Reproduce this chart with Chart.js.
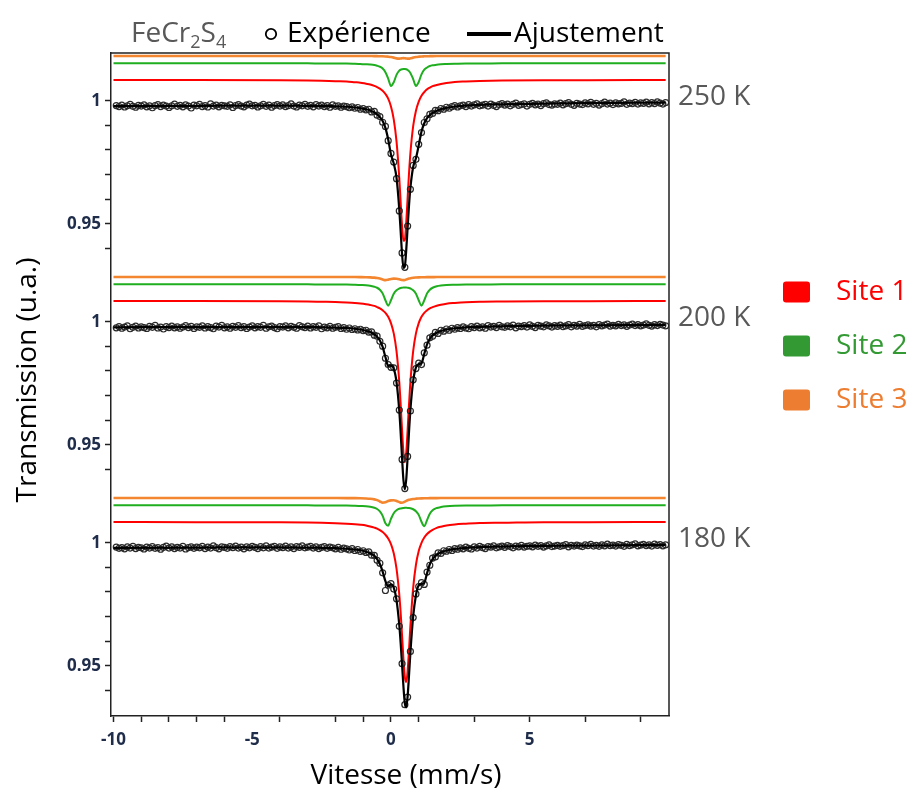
<!DOCTYPE html>
<html lang="fr">
<head>
<meta charset="UTF-8">
<title>FeCr2S4 - spectres Mössbauer</title>
<script src="https://cdn.jsdelivr.net/npm/chart.js"></script>
<style>
  html, body { margin: 0; padding: 0; background: #fff; }
  #wrap { width: 915px; height: 794px; }
</style>
</head>
<body>
<div id="wrap"><canvas id="spectra" width="915" height="794"></canvas></div>
<script>
// spectra, top to bottom
const temps = ['250 K', '200 K', '180 K'];
const panelShift = [0.18, 0.09, 0];          // vertical stacking of the three spectra
const siteLift = [0.0085, 0.0153, 0.0183];   // sub-spectra drawn above each spectrum
const siteNames = ['Site 1', 'Site 2', 'Site 3'];

// axis ticks
const xTickValues = [-10, -9, -8, -7, -6, -5, -4, -2, -1, 0, 1, 3, 5, 7, 9];
const xTickLabels = ['-10', '', '', '', '', '-5', '', '', '', '0', '', '', '5', '', ''];
const xTickNoMark = [-5];
const yTickLocal = [1, 0.99, 0.98, 0.97, 0.96, 0.95, 0.94];
const yTickText = ['1', '', '', '', '', '0.95', ''];

// velocity grid of the fitted curves (mm/s)
const vFit = [-10, -7, -4, -3, -2.5, -2, -1.6, -1.3, -1.1, -0.9, -0.75, -0.6, -0.5, -0.4, -0.3, -0.2, -0.1, 0, 0.1, 0.2,
  0.3, 0.35, 0.4, 0.45, 0.5, 0.55, 0.6, 0.65, 0.7, 0.8, 0.9, 1.0, 1.1, 1.2, 1.3, 1.4, 1.5, 1.65, 1.8, 2.0,
  2.3, 2.7, 3.2, 4, 5.5, 7, 9.9];

// 250 K
const fit250 = [0.9979, 0.9980, 0.9981, 0.9980, 0.9980, 0.9978, 0.9976, 0.9973, 0.9970, 0.9966, 0.9961, 0.9953, 0.9945, 0.9934, 0.9918, 0.9890, 0.9843, 0.9782, 0.9745, 0.9687,
  0.9557, 0.9467, 0.9376, 0.9320, 0.9326, 0.9392, 0.9485, 0.9574, 0.9646, 0.9731, 0.9766, 0.9819, 0.9875, 0.9909, 0.9930, 0.9942, 0.9951, 0.9960, 0.9966, 0.9971,
  0.9977, 0.9981, 0.9984, 0.9986, 0.9989, 0.9991, 0.9993];
const site1_250 = [1.0000, 1.0000, 0.9999, 0.9998, 0.9997, 0.9995, 0.9994, 0.9991, 0.9989, 0.9985, 0.9982, 0.9976, 0.9971, 0.9965, 0.9956, 0.9943, 0.9924, 0.9892, 0.9840, 0.9750,
  0.9600, 0.9500, 0.9405, 0.9345, 0.9350, 0.9420, 0.9520, 0.9620, 0.9702, 0.9812, 0.9875, 0.9912, 0.9936, 0.9951, 0.9962, 0.9969, 0.9975, 0.9980, 0.9984, 0.9988,
  0.9992, 0.9994, 0.9996, 0.9998, 0.9999, 0.9999, 1.0000];
const site2_250 = [1.0000, 1.0000, 1.0000, 1.0000, 0.9999, 0.9999, 0.9999, 0.9998, 0.9997, 0.9996, 0.9995, 0.9993, 0.9990, 0.9986, 0.9979, 0.9964, 0.9938, 0.9908, 0.9923, 0.9953,
  0.9970, 0.9974, 0.9976, 0.9977, 0.9977, 0.9976, 0.9973, 0.9968, 0.9961, 0.9936, 0.9908, 0.9924, 0.9955, 0.9974, 0.9983, 0.9989, 0.9992, 0.9994, 0.9996, 0.9997,
  0.9998, 0.9999, 0.9999, 1.0000, 1.0000, 1.0000, 1.0000];
const site3_250 = [1.0000, 1.0000, 1.0000, 1.0000, 1.0000, 1.0000, 1.0000, 1.0000, 1.0000, 0.99996, 0.99995, 0.99994, 0.99991, 0.99989, 0.99986, 0.99980, 0.99971, 0.99957, 0.99932, 0.99900,
  0.99891, 0.99899, 0.99907, 0.99910, 0.99907, 0.99899, 0.99891, 0.99892, 0.99902, 0.99932, 0.99957, 0.99971, 0.99980, 0.99985, 0.99989, 0.99991, 0.99993, 0.99995, 0.99996, 0.99997,
  0.99998, 1.0000, 1.0000, 1.0000, 1.0000, 1.0000, 1.0000];

// 200 K
const fit200 = [0.9978, 0.9979, 0.9979, 0.9979, 0.9978, 0.9977, 0.9975, 0.9972, 0.9969, 0.9964, 0.9959, 0.9949, 0.9940, 0.9924, 0.9898, 0.9857, 0.9821, 0.9822, 0.9810, 0.9755,
  0.9637, 0.9547, 0.9445, 0.9355, 0.9318, 0.9358, 0.9449, 0.9552, 0.9642, 0.9759, 0.9815, 0.9828, 0.9832, 0.9870, 0.9908, 0.9931, 0.9945, 0.9956, 0.9963, 0.9969,
  0.9974, 0.9978, 0.9980, 0.9982, 0.9985, 0.9986, 0.9988];
const site1_200 = [1.0000, 1.0000, 0.9999, 0.9998, 0.9997, 0.9996, 0.9994, 0.9992, 0.9990, 0.9987, 0.9984, 0.9980, 0.9975, 0.9970, 0.9962, 0.9952, 0.9936, 0.9910, 0.9868, 0.9796,
  0.9670, 0.9578, 0.9474, 0.9382, 0.9343, 0.9382, 0.9474, 0.9578, 0.9670, 0.9796, 0.9868, 0.9910, 0.9936, 0.9952, 0.9962, 0.9970, 0.9975, 0.9981, 0.9985, 0.9989,
  0.9992, 0.9995, 0.9997, 0.9998, 0.9999, 0.9999, 1.0000];
const site2_200 = [1.0000, 1.0000, 1.0000, 1.0000, 0.9999, 0.9999, 0.9999, 0.9998, 0.9997, 0.9996, 0.9994, 0.9990, 0.9986, 0.9978, 0.9963, 0.9935, 0.9913, 0.9935, 0.9962, 0.9976,
  0.9983, 0.9985, 0.9986, 0.9987, 0.9987, 0.9987, 0.9986, 0.9985, 0.9983, 0.9976, 0.9962, 0.9935, 0.9913, 0.9935, 0.9963, 0.9978, 0.9986, 0.9992, 0.9995, 0.9997,
  0.9998, 0.9999, 0.9999, 1.0000, 1.0000, 1.0000, 1.0000];
const site3_200 = [1.0000, 1.0000, 0.99999, 0.99999, 0.99998, 0.99998, 0.99997, 0.99995, 0.99992, 0.99988, 0.99983, 0.99972, 0.99958, 0.99934, 0.99896, 0.99870, 0.99890, 0.99920, 0.99933, 0.99929,
  0.99907, 0.99890, 0.99875, 0.99870, 0.99878, 0.99896, 0.99916, 0.99934, 0.99948, 0.99966, 0.99976, 0.99983, 0.99987, 0.99990, 0.99992, 0.99993, 0.99994, 0.99995, 0.99996, 0.99997,
  0.99998, 0.99999, 0.99999, 1.0000, 1.0000, 1.0000, 1.0000];

// 180 K
const fit180 = [0.9980, 0.9981, 0.9982, 0.9981, 0.9980, 0.9979, 0.9976, 0.9973, 0.9970, 0.9964, 0.9958, 0.9947, 0.9934, 0.9914, 0.9883, 0.9844, 0.9823, 0.9831, 0.9818, 0.9767,
  0.9665, 0.9591, 0.9503, 0.9414, 0.9346, 0.9330, 0.9375, 0.9460, 0.9553, 0.9701, 0.9787, 0.9827, 0.9833, 0.9837, 0.9876, 0.9913, 0.9934, 0.9952, 0.9961, 0.9969,
  0.9975, 0.9980, 0.9983, 0.9985, 0.9988, 0.9989, 0.9992];
const site1_180 = [1.0000, 0.9999, 0.9999, 0.9998, 0.9997, 0.9995, 0.9993, 0.9991, 0.9989, 0.9986, 0.9982, 0.9977, 0.9973, 0.9967, 0.9959, 0.9948, 0.9933, 0.9910, 0.9873, 0.9810,
  0.9704, 0.9628, 0.9537, 0.9442, 0.9368, 0.9348, 0.9393, 0.9480, 0.9577, 0.9732, 0.9826, 0.9882, 0.9915, 0.9937, 0.9951, 0.9961, 0.9968, 0.9976, 0.9981, 0.9986,
  0.9990, 0.9993, 0.9996, 0.9997, 0.9999, 0.9999, 1.0000];
const site2_180 = [1.0000, 1.0000, 1.0000, 1.0000, 0.9999, 0.9999, 0.9999, 0.9998, 0.9997, 0.9996, 0.9994, 0.9990, 0.9985, 0.9975, 0.9957, 0.9927, 0.9917, 0.9945, 0.9968, 0.9980,
  0.9986, 0.9987, 0.9988, 0.9989, 0.9990, 0.9990, 0.9989, 0.9989, 0.9988, 0.9984, 0.9976, 0.9961, 0.9933, 0.9915, 0.9940, 0.9966, 0.9980, 0.9989, 0.9993, 0.9996,
  0.9998, 0.9999, 0.9999, 1.0000, 1.0000, 1.0000, 1.0000];
const site3_180 = [1.0000, 1.0000, 0.99999, 0.99998, 0.99998, 0.99996, 0.99994, 0.99991, 0.99987, 0.99979, 0.99967, 0.99942, 0.99910, 0.99857, 0.99808, 0.99826, 0.99875, 0.99902, 0.99906, 0.99879,
  0.99831, 0.99810, 0.99806, 0.99822, 0.99851, 0.99880, 0.99906, 0.99925, 0.99940, 0.99960, 0.99971, 0.99978, 0.99983, 0.99987, 0.99989, 0.99991, 0.99992, 0.99994, 0.99995, 0.99996,
  0.99997, 0.99998, 0.99999, 0.99999, 1.0000, 1.0000, 1.0000];

// measured spectra: one channel every 0.1 mm/s from -9.9 to 9.9
const vExpStart = -9.9, vExpStep = 0.1;
const exp250 = [
  0.9981, 0.9977, 0.9983, 0.9975, 0.9980, 0.9986, 0.9978, 0.9974, 0.9982, 0.9979,
  0.9984, 0.9976, 0.9980, 0.9972, 0.9981, 0.9985, 0.9977, 0.9983, 0.9979, 0.9973,
  0.9980, 0.9987, 0.9978, 0.9982, 0.9976, 0.9984, 0.9979, 0.9971, 0.9983, 0.9980,
  0.9986, 0.9977, 0.9981, 0.9975, 0.9988, 0.9979, 0.9983, 0.9976, 0.9982, 0.9980,
  0.9978, 0.9984, 0.9973, 0.9981, 0.9985, 0.9979, 0.9976, 0.9983, 0.9987, 0.9980,
  0.9982, 0.9975, 0.9980, 0.9986, 0.9978, 0.9983, 0.9974, 0.9981, 0.9985, 0.9979,
  0.9984, 0.9977, 0.9981, 0.9988, 0.9979, 0.9975, 0.9983, 0.9980, 0.9986, 0.9978,
  0.9982, 0.9976, 0.9985, 0.9979, 0.9983, 0.9977, 0.9981, 0.9974, 0.9984, 0.9978,
  0.9980, 0.9974, 0.9979, 0.9977, 0.9972, 0.9976, 0.9970, 0.9973, 0.9966, 0.9969,
  0.9963, 0.9966, 0.9955, 0.9957, 0.9942, 0.9936, 0.9913, 0.9896, 0.9838, 0.9786,
  0.9751, 0.9683, 0.9552, 0.9381, 0.9322, 0.9490, 0.9640, 0.9737, 0.9762, 0.9823,
  0.9871, 0.9912, 0.9927, 0.9945, 0.9949, 0.9961, 0.9960, 0.9969, 0.9966, 0.9974,
  0.9970, 0.9977, 0.9981, 0.9975, 0.9980, 0.9983, 0.9977, 0.9985, 0.9979, 0.9984,
  0.9988, 0.9980, 0.9983, 0.9986, 0.9979, 0.9987, 0.9982, 0.9977, 0.9985, 0.9989,
  0.9983, 0.9987, 0.9980, 0.9986, 0.9991, 0.9982, 0.9985, 0.9988, 0.9979, 0.9986,
  0.9990, 0.9984, 0.9987, 0.9981, 0.9989, 0.9992, 0.9985, 0.9983, 0.9988, 0.9986,
  0.9991, 0.9984, 0.9989, 0.9993, 0.9986, 0.9982, 0.9990, 0.9987, 0.9985, 0.9992,
  0.9988, 0.9994, 0.9986, 0.9990, 0.9983, 0.9989, 0.9995, 0.9987, 0.9991, 0.9985,
  0.9992, 0.9988, 0.9990, 0.9996, 0.9986, 0.9991, 0.9989, 0.9994, 0.9987, 0.9992,
  0.9990, 0.9995, 0.9988, 0.9993, 0.9989, 0.9996, 0.9991, 0.9987, 0.9993];
const exp200 = [
  0.9976, 0.9981, 0.9974, 0.9979, 0.9984, 0.9972, 0.9978, 0.9983, 0.9975, 0.9980,
  0.9977, 0.9973, 0.9982, 0.9978, 0.9986, 0.9975, 0.9979, 0.9971, 0.9981, 0.9977,
  0.9983, 0.9976, 0.9980, 0.9974, 0.9979, 0.9985, 0.9977, 0.9982, 0.9973, 0.9980,
  0.9978, 0.9984, 0.9975, 0.9981, 0.9977, 0.9972, 0.9983, 0.9979, 0.9986, 0.9976,
  0.9980, 0.9974, 0.9982, 0.9978, 0.9985, 0.9977, 0.9981, 0.9973, 0.9979, 0.9984,
  0.9976, 0.9981, 0.9978, 0.9986, 0.9974, 0.9980, 0.9983, 0.9977, 0.9972, 0.9981,
  0.9979, 0.9984, 0.9976, 0.9982, 0.9978, 0.9974, 0.9985, 0.9980, 0.9977, 0.9983,
  0.9975, 0.9981, 0.9978, 0.9984, 0.9972, 0.9979, 0.9976, 0.9982, 0.9974, 0.9978,
  0.9981, 0.9973, 0.9977, 0.9970, 0.9975, 0.9969, 0.9972, 0.9967, 0.9970, 0.9964,
  0.9966, 0.9958, 0.9959, 0.9946, 0.9942, 0.9921, 0.9901, 0.9852, 0.9826, 0.9815,
  0.9813, 0.9751, 0.9641, 0.9440, 0.9321, 0.9452, 0.9637, 0.9764, 0.9810, 0.9832,
  0.9826, 0.9874, 0.9905, 0.9935, 0.9941, 0.9957, 0.9953, 0.9966, 0.9962, 0.9971,
  0.9966, 0.9974, 0.9970, 0.9977, 0.9973, 0.9980, 0.9975, 0.9972, 0.9981, 0.9977,
  0.9983, 0.9976, 0.9980, 0.9974, 0.9985, 0.9979, 0.9982, 0.9977, 0.9986, 0.9980,
  0.9978, 0.9984, 0.9980, 0.9987, 0.9976, 0.9983, 0.9981, 0.9985, 0.9979, 0.9988,
  0.9982, 0.9977, 0.9986, 0.9983, 0.9980, 0.9988, 0.9984, 0.9979, 0.9985, 0.9982,
  0.9987, 0.9981, 0.9984, 0.9989, 0.9980, 0.9986, 0.9983, 0.9990, 0.9982, 0.9985,
  0.9988, 0.9983, 0.9986, 0.9980, 0.9989, 0.9984, 0.9987, 0.9991, 0.9983, 0.9986,
  0.9984, 0.9990, 0.9985, 0.9988, 0.9982, 0.9987, 0.9991, 0.9985, 0.9989, 0.9984,
  0.9987, 0.9992, 0.9986, 0.9983, 0.9989, 0.9985, 0.9990, 0.9987, 0.9984];
const exp180 = [
  0.9983, 0.9978, 0.9981, 0.9976, 0.9984, 0.9979, 0.9986, 0.9977, 0.9982, 0.9980,
  0.9975, 0.9983, 0.9979, 0.9985, 0.9978, 0.9981, 0.9974, 0.9982, 0.9987, 0.9979,
  0.9984, 0.9977, 0.9982, 0.9979, 0.9986, 0.9975, 0.9981, 0.9984, 0.9978, 0.9983,
  0.9980, 0.9986, 0.9977, 0.9983, 0.9979, 0.9988, 0.9981, 0.9976, 0.9984, 0.9982,
  0.9978, 0.9985, 0.9981, 0.9987, 0.9979, 0.9983, 0.9976, 0.9984, 0.9980, 0.9986,
  0.9982, 0.9977, 0.9985, 0.9980, 0.9988, 0.9979, 0.9983, 0.9986, 0.9978, 0.9984,
  0.9981, 0.9987, 0.9979, 0.9984, 0.9977, 0.9985, 0.9982, 0.9988, 0.9980, 0.9983,
  0.9986, 0.9979, 0.9984, 0.9977, 0.9982, 0.9985, 0.9978, 0.9983, 0.9980, 0.9976,
  0.9982, 0.9974, 0.9979, 0.9976, 0.9971, 0.9977, 0.9969, 0.9973, 0.9965, 0.9968,
  0.9961, 0.9963, 0.9950, 0.9949, 0.9929, 0.9917, 0.9878, 0.9806, 0.9828, 0.9834,
  0.9812, 0.9772, 0.9660, 0.9508, 0.9341, 0.9372, 0.9558, 0.9696, 0.9792, 0.9822,
  0.9838, 0.9831, 0.9881, 0.9909, 0.9938, 0.9943, 0.9959, 0.9957, 0.9968, 0.9966,
  0.9973, 0.9969, 0.9977, 0.9974, 0.9980, 0.9976, 0.9983, 0.9978, 0.9975, 0.9984,
  0.9979, 0.9986, 0.9981, 0.9977, 0.9985, 0.9983, 0.9988, 0.9980, 0.9984, 0.9987,
  0.9982, 0.9989, 0.9985, 0.9980, 0.9987, 0.9984, 0.9990, 0.9983, 0.9986, 0.9988,
  0.9984, 0.9991, 0.9986, 0.9989, 0.9983, 0.9988, 0.9992, 0.9985, 0.9987, 0.9990,
  0.9986, 0.9989, 0.9993, 0.9984, 0.9990, 0.9987, 0.9991, 0.9988, 0.9985, 0.9992,
  0.9989, 0.9994, 0.9987, 0.9990, 0.9986, 0.9992, 0.9988, 0.9995, 0.9989, 0.9991,
  0.9987, 0.9993, 0.9990, 0.9986, 0.9994, 0.9989, 0.9992, 0.9996, 0.9988, 0.9991,
  0.9994, 0.9989, 0.9992, 0.9987, 0.9995, 0.9990, 0.9993, 0.9988, 0.9992];

const expData = [exp250, exp200, exp180];
const fitData = [fit250, fit200, fit180];
const siteData = [
  [site1_250, site2_250, site3_250],
  [site1_200, site2_200, site3_200],
  [site1_180, site2_180, site3_180]
];

const siteLine = ['#ff0000', '#1fae1f', '#f3862f'];
const siteLegend = ['#ff0000', '#339933', '#ed7d31'];
const siteWidth = [2, 2, 2.6];
const axisInk = '#222';
const tickInk = '#1f2d4a';
const grey = '#595959';

// build the datasets
const datasets = [];
panelShift.forEach((shift, p) => {
  siteData[p].forEach((vals, s) => {
    datasets.push({
      data: vFit.map((v, i) => ({ x: v, y: vals[i] + shift + siteLift[s] })),
      showLine: true, borderColor: siteLine[s], borderWidth: siteWidth[s],
      pointRadius: 0, cubicInterpolationMode: 'monotone', order: 3
    });
  });
  datasets.push({
    data: expData[p].map((t, i) => ({ x: +(vExpStart + i * vExpStep).toFixed(2), y: t + shift })),
    showLine: false, pointRadius: 3, pointBorderWidth: 1.2,
    pointBorderColor: '#2a2a2a', pointBackgroundColor: 'rgba(255,255,255,0)', order: 2
  });
  datasets.push({
    data: vFit.map((v, i) => ({ x: v, y: fitData[p][i] + shift })),
    showLine: true, borderColor: '#000', borderWidth: 2.2,
    pointRadius: 0, cubicInterpolationMode: 'monotone', order: 1
  });
});

const yTickValues = panelShift.flatMap(s => yTickLocal.map(t => +(t + s).toFixed(4)));
const yTickLabels = panelShift.flatMap(() => yTickText);

// frame, titles and the hand-made legends
const decor = {
  id: 'decor',
  afterDraw(chart) {
    const { ctx, chartArea: a, scales } = chart;
    ctx.save();
    ctx.strokeStyle = axisInk;
    ctx.lineWidth = 1.5;
    ctx.beginPath();
    ctx.moveTo(a.left, a.top);
    ctx.lineTo(a.right, a.top);
    ctx.lineTo(a.right, a.bottom);
    ctx.stroke();

    const big = "28px 'Open Sans', sans-serif";
    const small = "18px 'Open Sans', sans-serif";

    // axis titles
    ctx.fillStyle = '#000';
    ctx.font = big;
    ctx.textAlign = 'center';
    ctx.textBaseline = 'middle';
    ctx.fillText('Vitesse (mm/s)', 406, 776);
    ctx.save();
    ctx.translate(28, 380);
    ctx.rotate(-Math.PI / 2);
    ctx.fillText('Transmission (u.a.)', 0, 0);
    ctx.restore();

    // temperatures
    ctx.textAlign = 'left';
    ctx.fillStyle = grey;
    temps.forEach((t, p) => {
      ctx.fillText(t, 678, scales.y.getPixelForValue(1 + panelShift[p]) - 4);
    });

    // compound name with subscripts
    ctx.textBaseline = 'alphabetic';
    let x = 131;
    const part = (txt, font, dy) => {
      ctx.font = font;
      ctx.fillText(txt, x, 42 + dy);
      x += ctx.measureText(txt).width;
    };
    part('FeCr', big, 0);
    part('2', small, 6);
    part('S', big, 0);
    part('4', small, 6);

    // measurement / fit legend
    ctx.strokeStyle = '#000';
    ctx.lineWidth = 1.8;
    ctx.beginPath();
    ctx.arc(271, 34, 5.2, 0, Math.PI * 2);
    ctx.stroke();
    ctx.fillStyle = '#000';
    ctx.font = big;
    ctx.fillText('Expérience', 287, 42);
    ctx.lineWidth = 4;
    ctx.beginPath();
    ctx.moveTo(467, 34);
    ctx.lineTo(511, 34);
    ctx.stroke();
    ctx.fillText('Ajustement', 514, 42);

    // site legend
    ctx.textBaseline = 'middle';
    siteNames.forEach((name, s) => {
      const cy = 292 + s * 54;
      ctx.fillStyle = siteLegend[s];
      ctx.beginPath();
      ctx.roundRect(783, cy - 10.5, 27, 21, 3);
      ctx.fill();
      ctx.fillText(name, 836, cy);
    });
    ctx.restore();
  }
};

new Chart(document.getElementById('spectra'), {
  type: 'scatter',
  data: { datasets },
  options: {
    responsive: false,
    animation: false,
    events: [],
    layout: { padding: { top: 53, right: 246, left: 0, bottom: 0 } },
    plugins: { legend: { display: false }, tooltip: { enabled: false } },
    scales: {
      x: {
        type: 'linear', min: -10.09, max: 10.02,
        afterFit: s => { s.height = 78; },
        afterBuildTicks: s => { s.ticks = xTickValues.map(v => ({ value: v })); },
        ticks: {
          autoSkip: false, maxRotation: 0, padding: 8, color: tickInk,
          font: { size: 17, weight: 'bold', family: "'Open Sans', sans-serif" },
          callback: (v, i) => xTickLabels[i]
        },
        grid: {
          drawOnChartArea: false, tickLength: 6, tickWidth: 1.5,
          tickColor: c => (c.tick && xTickNoMark.includes(c.tick.value)) ? 'rgba(0,0,0,0)' : axisInk
        },
        border: { color: axisInk, width: 1.5 }
      },
      y: {
        type: 'linear', min: 0.9295, max: 1.1995,
        afterFit: s => { s.width = 111; },
        afterBuildTicks: s => { s.ticks = yTickValues.map(v => ({ value: v })); },
        ticks: {
          autoSkip: false, padding: 4, color: tickInk,
          font: { size: 17, weight: 'bold', family: "'Open Sans', sans-serif" },
          callback: (v, i) => yTickLabels[i]
        },
        grid: { drawOnChartArea: false, tickLength: 6, tickWidth: 1.5, tickColor: axisInk },
        border: { color: axisInk, width: 1.5 }
      }
    }
  },
  plugins: [decor]
});
</script>
</body>
</html>
